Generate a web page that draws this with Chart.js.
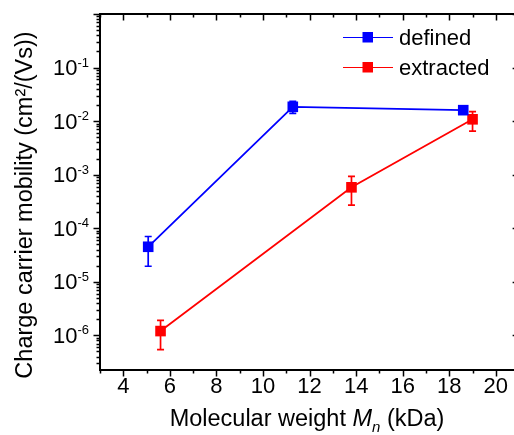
<!DOCTYPE html>
<html>
<head>
<meta charset="utf-8">
<script src="https://cdn.jsdelivr.net/npm/chart.js@4/dist/chart.umd.min.js"></script>
<style>
  html, body { margin: 0; padding: 0; background: #fff; overflow: hidden; }
  #c { display: block; }
</style>
</head>
<body>
<canvas id="c" width="514" height="435"></canvas>
<script>
// Molecular weight Mn (kDa) and charge carrier mobility (cm²/(Vs))
const definedMn = [5.07, 11.28, 18.6];
const definedMu = [4.5e-5, 1.85e-2, 1.6e-2];
const definedLo = [1.95e-5, 1.4e-2, 1.45e-2];
const definedHi = [7.0e-5, 2.35e-2, 1.75e-2];

const extractedMn = [5.6, 13.8, 19.0];
const extractedMu = [1.2e-6, 5.8e-4, 1.08e-2];
const extractedLo = [5.4e-7, 2.7e-4, 6.5e-3];
const extractedHi = [1.9e-6, 9.3e-4, 1.5e-2];

const xTicks = [4, 6, 8, 10, 12, 14, 16, 18, 20];
const yDecades = [-6, -5, -4, -3, -2, -1];

const seriesNames = ['defined', 'extracted'];
const BLUE = '#0000ff';
const RED = '#ff0000';
const FONT = '"Liberation Sans", Arial, sans-serif';

// the frame closes at x = 21; the canvas ends a little before that
const X_MIN = 3, X_FRAME = 21, X_VISIBLE = 20.78;

function points(xs, ys) { return xs.map((x, i) => ({ x: x, y: ys[i] })); }

const errorBars = [
  { lo: definedLo, hi: definedHi, color: BLUE },
  { lo: extractedLo, hi: extractedHi, color: RED }
];

const axesPlugin = {
  id: 'axesPlugin',
  beforeDatasetsDraw(chart) {
    const ctx = chart.ctx;
    const xs = chart.scales.x, ys = chart.scales.y;
    // error bars
    ctx.save();
    ctx.lineWidth = 1.7;
    chart.data.datasets.forEach((ds, di) => {
      const eb = errorBars[di];
      ctx.strokeStyle = eb.color;
      ds.data.forEach((p, i) => {
        const px = xs.getPixelForValue(p.x);
        const top = ys.getPixelForValue(eb.hi[i]);
        const bot = ys.getPixelForValue(eb.lo[i]);
        ctx.beginPath();
        ctx.moveTo(px, top); ctx.lineTo(px, bot);
        ctx.moveTo(px - 3.5, top); ctx.lineTo(px + 3.5, top);
        ctx.moveTo(px - 3.5, bot); ctx.lineTo(px + 3.5, bot);
        ctx.stroke();
      });
    });
    ctx.restore();
  },
  afterDraw(chart) {
    const ctx = chart.ctx;
    const a = chart.chartArea;
    const xs = chart.scales.x, ys = chart.scales.y;
    const right = xs.getPixelForValue(X_FRAME);
    ctx.save();
    ctx.strokeStyle = '#000';
    ctx.fillStyle = '#000';

    // frame
    ctx.lineWidth = 2;
    ctx.strokeRect(a.left, a.top, right - a.left, a.bottom - a.top);

    // x ticks: major every 2, minor in between
    ctx.lineWidth = 1.5;
    ctx.beginPath();
    for (let v = Math.ceil(xs.min); v <= X_FRAME; v += 1) {
      const px = Math.round(xs.getPixelForValue(v)) + 0.5;
      const major = v % 2 === 0;
      const len = major ? 6.5 : 3.5;
      ctx.moveTo(px, a.bottom); ctx.lineTo(px, a.bottom + len);
      ctx.moveTo(px, a.top); ctx.lineTo(px, a.top + len);
    }
    // y ticks: decades and log minors
    const dMin = Math.floor(Math.log10(ys.min)), dMax = Math.ceil(Math.log10(ys.max));
    for (let d = dMin; d <= dMax; d++) {
      for (let k = 1; k <= 9; k++) {
        const v = k * Math.pow(10, d);
        if (v < ys.min || v > ys.max) continue;
        const py = Math.round(ys.getPixelForValue(v)) + 0.5;
        const len = k === 1 ? 6.5 : 3.5;
        ctx.moveTo(a.left, py); ctx.lineTo(a.left - len, py);
        ctx.moveTo(right, py); ctx.lineTo(right - len, py);
      }
    }
    ctx.stroke();

    // x tick labels
    ctx.font = '22px ' + FONT;
    ctx.textAlign = 'center';
    ctx.textBaseline = 'alphabetic';
    xTicks.forEach(v => {
      ctx.fillText(String(v), xs.getPixelForValue(v), a.bottom + 23);
    });

    // y tick labels 10^n
    yDecades.forEach(d => {
      const py = ys.getPixelForValue(Math.pow(10, d));
      ctx.font = '13px ' + FONT;
      const sup = '-' + Math.abs(d);
      const supW = ctx.measureText(sup).width;
      const edge = a.left - 11;
      ctx.textAlign = 'left';
      ctx.fillText(sup, edge - supW, py - 1);
      ctx.font = '22px ' + FONT;
      ctx.textAlign = 'right';
      ctx.fillText('10', edge - supW, py + 7.5);
    });

    // x axis title with italic M and subscript n
    const y0 = 426;
    const parts = [
      { t: 'Molecular weight ', f: '23.5px ' + FONT, dy: 0 },
      { t: 'M', f: 'italic 23.5px ' + FONT, dy: 0 },
      { t: 'n', f: 'italic 15px ' + FONT, dy: 6 },
      { t: ' (kDa)', f: '23.5px ' + FONT, dy: 0 }
    ];
    let total = 0;
    parts.forEach(p => { ctx.font = p.f; p.w = ctx.measureText(p.t).width; total += p.w; });
    let cx = 307 - total / 2;
    ctx.textAlign = 'left';
    parts.forEach(p => { ctx.font = p.f; ctx.fillText(p.t, cx, y0 + p.dy); cx += p.w; });

    // y axis title
    ctx.save();
    ctx.translate(32, 205);
    ctx.rotate(-Math.PI / 2);
    ctx.font = '23.5px ' + FONT;
    ctx.textAlign = 'center';
    ctx.fillText('Charge carrier mobility (cm\u00b2/(Vs))', 0, 0);
    ctx.restore();

    // legend
    const legend = [
      { name: seriesNames[0], color: BLUE, y: 37 },
      { name: seriesNames[1], color: RED, y: 67 }
    ];
    legend.forEach(l => {
      ctx.strokeStyle = l.color;
      ctx.lineWidth = 1.2;
      ctx.beginPath();
      ctx.moveTo(343, l.y + 0.5); ctx.lineTo(393, l.y + 0.5);
      ctx.stroke();
      ctx.fillStyle = l.color;
      ctx.fillRect(362.5, l.y - 5, 10.5, 10.5);
      ctx.fillStyle = '#000';
      ctx.font = '22px ' + FONT;
      ctx.textAlign = 'left';
      ctx.fillText(l.name, 399, l.y + 8);
    });
    ctx.restore();
  }
};

new Chart(document.getElementById('c'), {
  type: 'scatter',
  data: {
    datasets: [
      {
        label: seriesNames[0],
        data: points(definedMn, definedMu),
        showLine: true,
        borderColor: BLUE,
        backgroundColor: BLUE,
        borderWidth: 1.8,
        pointStyle: 'rect',
        pointRadius: 7.5,
        pointBorderWidth: 0
      },
      {
        label: seriesNames[1],
        data: points(extractedMn, extractedMu),
        showLine: true,
        borderColor: RED,
        backgroundColor: RED,
        borderWidth: 1.8,
        pointStyle: 'rect',
        pointRadius: 7.5,
        pointBorderWidth: 0
      }
    ]
  },
  options: {
    responsive: false,
    animation: false,
    devicePixelRatio: 1,
    layout: { autoPadding: false, padding: { left: 100, top: 14, right: 0, bottom: 65 } },
    plugins: { legend: { display: false }, tooltip: { enabled: false } },
    scales: {
      x: {
        type: 'linear', min: X_MIN, max: X_VISIBLE,
        grid: { display: false }, border: { display: false },
        ticks: { display: false },
        afterFit(scale) { scale.height = 0; }
      },
      y: {
        type: 'logarithmic', min: 2.25e-7, max: 1,
        grid: { display: false }, border: { display: false },
        ticks: { display: false },
        afterFit(scale) { scale.width = 0; }
      }
    }
  },
  plugins: [axesPlugin]
});
</script>
</body>
</html>
